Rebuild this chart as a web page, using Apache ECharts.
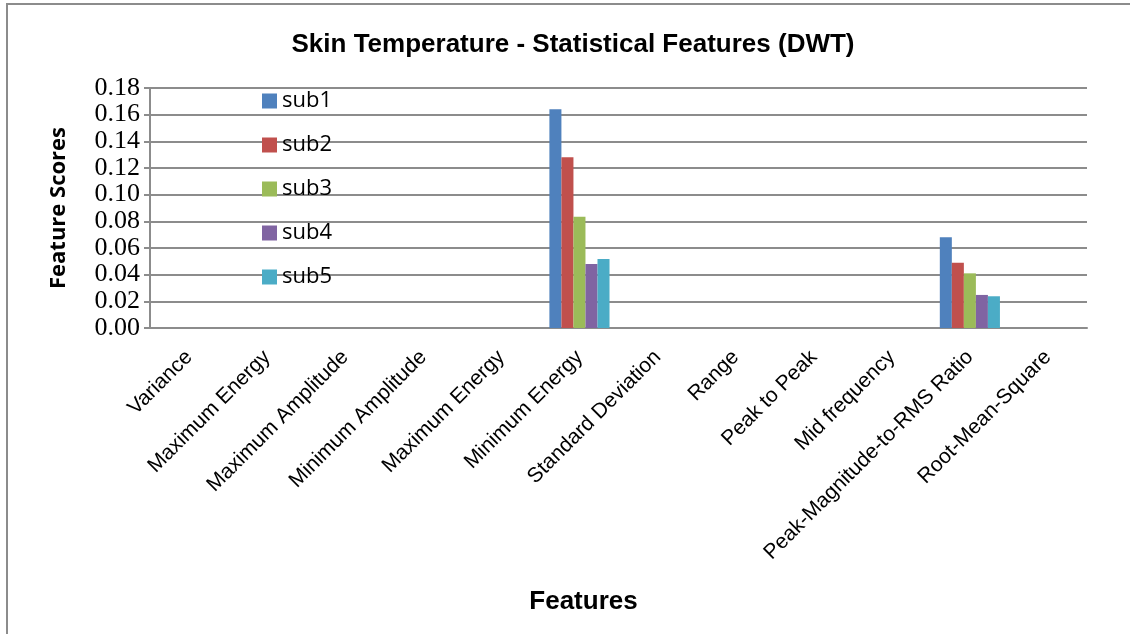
<!DOCTYPE html>
<html>
<head>
<meta charset="utf-8">
<style>
  html, body { margin: 0; padding: 0; background: #fff; }
  #chart { width: 1130px; height: 634px; }
</style>
<script src="https://cdn.jsdelivr.net/npm/echarts@6/dist/echarts.min.js"></script>
</head>
<body>
<div id="chart"></div>
<script>
// categories along the x axis
var features = ['Variance', 'Maximum Energy', 'Maximum Amplitude', 'Minimum Amplitude',
  'Maximum Energy', 'Minimum Energy', 'Standard Deviation', 'Range', 'Peak to Peak',
  'Mid frequency', 'Peak-Magnitude-to-RMS Ratio', 'Root-Mean-Square']

// feature scores per subject (0 where no bar is drawn)
var sub1 = [0, 0, 0, 0, 0, 0.164, 0, 0, 0, 0, 0.068, 0]
var sub2 = [0, 0, 0, 0, 0, 0.128, 0, 0, 0, 0, 0.049, 0]
var sub3 = [0, 0, 0, 0, 0, 0.0835, 0, 0, 0, 0, 0.041, 0]
var sub4 = [0, 0, 0, 0, 0, 0.048, 0, 0, 0, 0, 0.0248, 0]
var sub5 = [0, 0, 0, 0, 0, 0.0518, 0, 0, 0, 0, 0.0238, 0]

var seriesNames = ['sub1', 'sub2', 'sub3', 'sub4', 'sub5']
var seriesData = [sub1, sub2, sub3, sub4, sub5]
var colors = ['#4f81bd', '#c0504d', '#9bbb59', '#8064a2', '#4bacc6']

var chart = echarts.init(document.getElementById('chart'))

var series = seriesNames.map(function (name, i) {
  return {
    name: name,
    type: 'bar',
    data: seriesData[i],
    barGap: '0%',
    barCategoryGap: '23%',
    itemStyle: { color: colors[i] }
  }
})

chart.setOption({
  animation: false,
  color: colors,
  title: {
    text: 'Skin Temperature - Statistical Features (DWT)',
    left: 568,
    top: 27,
    textAlign: 'center',
    textStyle: { fontFamily: 'Liberation Sans', fontSize: 26, fontWeight: 'bold', color: '#000' }
  },
  legend: {
    orient: 'vertical',
    left: 257,
    top: 85,
    itemWidth: 15,
    itemHeight: 15,
    itemGap: 22,
    icon: 'rect',
    textStyle: { fontFamily: 'Open Sans', fontSize: 22, color: '#000' },
    data: seriesNames
  },
  grid: { left: 150, right: 43, top: 88, bottom: 306, containLabel: false },
  xAxis: {
    type: 'category',
    data: features,
    name: 'Features',
    nameLocation: 'middle',
    nameGap: 261,
    nameTextStyle: {
      fontFamily: 'Liberation Sans', fontSize: 26, fontWeight: 'bold', color: '#000',
      padding: [0, 70, 0, 0]
    },
    axisLine: { lineStyle: { color: '#8c8c8c', width: 2 } },
    axisTick: { show: false },
    axisLabel: {
      interval: 0,
      rotate: 45,
      margin: 26,
      fontFamily: 'Liberation Sans',
      fontSize: 21,
      color: '#000'
    }
  },
  yAxis: {
    type: 'value',
    min: 0,
    max: 0.18,
    interval: 0.02,
    name: 'Feature Scores',
    nameLocation: 'middle',
    nameGap: 80,
    nameTextStyle: { fontFamily: 'Open Sans', fontSize: 22, fontWeight: 'bold', color: '#000' },
    axisLine: { show: true, lineStyle: { color: '#8c8c8c', width: 2 } },
    axisTick: { show: true, length: 6, lineStyle: { color: '#8c8c8c', width: 2 } },
    splitLine: { lineStyle: { color: '#8c8c8c', width: 2 } },
    axisLabel: {
      margin: 10,
      fontFamily: 'Liberation Serif',
      fontSize: 26,
      color: '#000',
      formatter: function (v) { return v.toFixed(2) }
    }
  },
  graphic: [{
    type: 'rect',
    shape: { x: 7, y: 4, width: 1200, height: 700 },
    style: { fill: 'none', stroke: '#8c8c8c', lineWidth: 2 },
    silent: true
  }],
  series: series
})
</script>
</body>
</html>
